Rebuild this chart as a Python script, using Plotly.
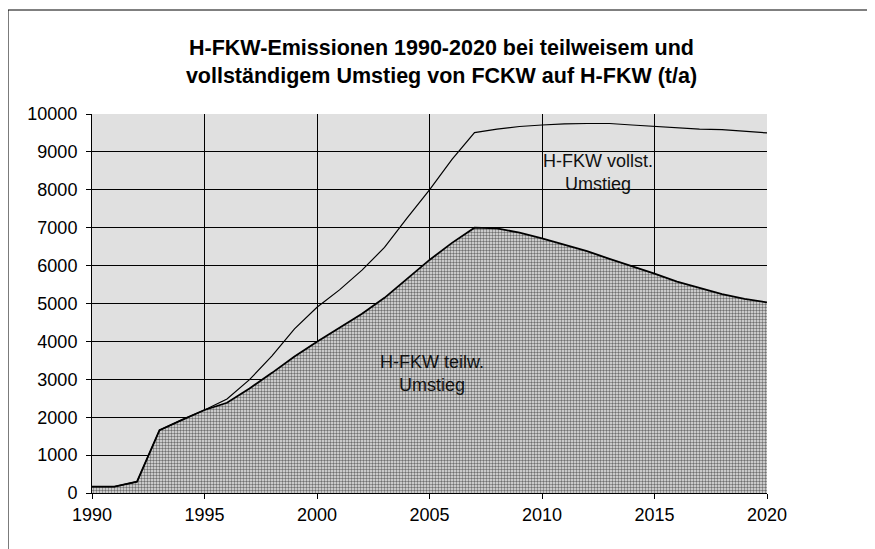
import plotly.graph_objs as go

years = list(range(1990, 2021))

teilw = [170, 170, 300, 1660, 1930, 2190, 2380, 2760, 3170, 3600, 3990,
         4360, 4730, 5150, 5650, 6150, 6600, 7000, 6980, 6870, 6720,
         6560, 6380, 6180, 5990, 5790, 5580, 5420, 5250, 5120, 5030]

vollst = [170, 170, 300, 1660, 1930, 2190, 2480, 2990, 3620, 4330, 4900,
          5360, 5880, 6480, 7250, 8000, 8800, 9510, 9600, 9670, 9710,
          9740, 9750, 9750, 9710, 9670, 9630, 9600, 9590, 9550, 9500]

title_text = ("<b>H-FKW-Emissionen 1990-2020 bei teilweisem und<br>"
              "vollständigem Umstieg von FCKW auf H-FKW (t/a)</b>")

font = "Liberation Sans, Arial, sans-serif"

fig = go.Figure()

fig.add_trace(go.Scatter(
    x=years, y=teilw,
    mode='lines',
    name='H-FKW teilw. Umstieg',
    line=dict(color='black', width=1.8),
    fill='tozeroy',
    fillcolor='white',
    fillpattern=dict(shape='.', fgcolor='#707070', bgcolor='#e8e8e8',
                     size=3, solidity=0.5, fillmode='replace')
))

fig.add_trace(go.Scatter(
    x=years, y=vollst,
    mode='lines',
    name='H-FKW vollst. Umstieg',
    line=dict(color='black', width=1.2)
))

fig.add_annotation(x=2012.5, y=8450, text="H-FKW vollst.<br>Umstieg",
                   showarrow=False, font=dict(family=font, size=18, color='#111'))
fig.add_annotation(x=2005.1, y=3140, text="H-FKW teilw.<br>Umstieg",
                   showarrow=False, font=dict(family=font, size=18, color='#111'))

# outer chart frame (cropped on right and bottom)
fig.add_shape(type='rect', xref='paper', yref='paper',
              x0=-0.1244, x1=1.3, y0=-0.5, y1=1.2744,
              line=dict(color='black', width=1), layer='below')

fig.update_xaxes(
    range=[1990, 2020], tickvals=[1990, 1995, 2000, 2005, 2010, 2015, 2020],
    showgrid=True, gridcolor='black', gridwidth=1,
    showline=True, linecolor='black', linewidth=1,
    ticks='outside', ticklen=5, tickcolor='black',
    tickfont=dict(family=font, size=18, color='black'),
    zeroline=False
)
fig.update_yaxes(
    range=[0, 10000], dtick=1000, tickformat='d', ticksuffix='\u00a0',
    showgrid=True, gridcolor='black', gridwidth=1,
    showline=True, linecolor='black', linewidth=1,
    ticks='outside', ticklen=5, tickcolor='black',
    tickfont=dict(family=font, size=18, color='black'),
    zeroline=False
)

fig.update_layout(
    width=867, height=541,
    margin=dict(l=84, r=108, t=106, b=56),
    title=dict(text=title_text, x=0.5, xanchor='center',
               y=1 - 47 / 541, yanchor='middle',
               font=dict(family=font, size=21.5, color='black')),
    showlegend=False,
    plot_bgcolor='#e0e0e0',
    paper_bgcolor='white'
)

fig.write_html("out.html")
